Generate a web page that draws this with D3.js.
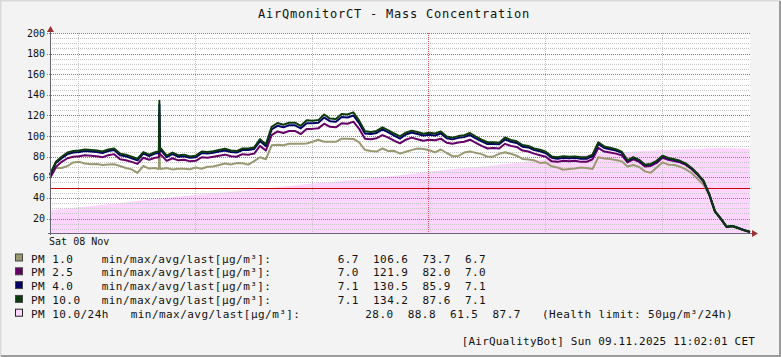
<!DOCTYPE html>
<html><head><meta charset="utf-8">
<script src="https://cdn.jsdelivr.net/npm/d3@7"></script>
<style>body{margin:0;background:#f3f3f3}svg{display:block}</style>
</head><body>
<svg id="chart" width="781" height="357"></svg>
<script>
// ---------------- DATA ----------------
const chartTitle = "AirQmonitorCT - Mass Concentration";
const startUTC = Date.UTC(2025, 10, 8, 11, 2); // Sat 08 Nov 2025 11:02
const spanMinutes = 1440;
const minutes = [0,12,24,36,48,60,72,84,96,108,120,132,144,156,168,180,192,204,216,224,225,226,228,240,252,264,276,288,300,312,324,336,348,360,372,384,396,408,420,432,444,456,468,480,492,504,516,528,540,552,564,576,588,600,612,624,636,648,660,672,684,696,708,720,732,744,756,768,780,792,804,816,828,840,852,864,876,888,900,912,924,936,948,960,972,984,996,1008,1020,1032,1044,1056,1068,1080,1092,1104,1116,1128,1140,1152,1164,1176,1188,1200,1212,1224,1236,1248,1260,1272,1284,1296,1308,1320,1332,1344,1356,1368,1380,1392,1404,1416,1428,1440];
const pm10 = [63,75,80,84,85.5,86,87,86.5,86,85,87,88,83,82,80,78,84.5,82,84.3,85,134.2,87,88,81,84,81.5,82,80.3,81,85,84.5,85.3,86.5,87.8,86,85.5,88,88,89,97,92,109,112.7,111,113,113,110,115.3,115,115.5,121,117,116.6,121.5,121,123,115,104.6,104,105,108.5,105.6,102.5,99.7,103.3,105.3,104,102.3,103.2,102.5,104.5,99.7,98.5,100,100.8,103,99.6,96.5,94,94,93.5,98.6,96.3,95,91.3,90.5,88,86.8,84.8,80.3,79.5,80.5,80,80.3,79.4,79.5,82,94,90,88.8,87.3,85,76.5,79.5,77,72.3,73,76,81,78.8,77.5,76,73.3,69,63.4,57,44,27,20,12,12.8,10.8,8.8,7.1];
const pm4 = [62,74,78.5,82.5,84,84.5,85.5,85,84.5,83.5,85.5,86.5,81.5,80.5,78.5,76.5,83,80.5,83,83.5,130.5,85.5,86.5,79.5,82.5,80,80.5,79,79.5,83.5,83,83.8,85,86,84.5,84,86.5,86.5,87.5,95,90.5,106.5,110,108.5,110.5,110.5,107.5,112.5,112.5,113,118,114.5,114,118.5,118,120,112.5,102.5,102,103,106.5,103.5,100.5,97.5,101.5,103.5,102,100.5,101.3,100.5,102.5,98,96.8,98.3,99,101,97.8,94.8,92.3,92.3,92,96.8,94.5,93.3,89.7,89,86.5,85.3,83.3,79,78,79,78.5,79,78,78,80.5,92.3,88.5,87.3,86,84,76,79,76.5,72,72.5,75.5,80.5,78.3,77,75.5,73,68.7,63.2,56.8,43.8,27,20,12,12.8,10.8,8.8,7.1];
const pm25 = [59,70,75,78.5,80,80.5,81.5,81,80.5,79.5,81.5,82.5,77.5,76.5,75,73,79,77,79,79.5,121.9,81,82,76,78.5,76.5,77,75.5,76,79.5,79,80,81,82,80.5,80,82.5,82,83,90.5,86,101,104.5,103,105,105,102,107,107,107.5,112,109,108.5,112.5,112,114,107,97.5,97,98,101,98.5,95.5,93,96.5,98.5,97,95.5,96.5,96,97.5,93.5,92.5,93.8,94.5,96.5,93.5,90.5,88,88.5,88,92.5,90.5,89.5,86,85,83,81.5,80,75.5,75,76,75.5,76,75,75,77.5,88.5,85,84,83,81.5,74.5,77.5,75,70.5,71,74,79,77,75.8,74.5,72,67.8,62.5,56.2,43.5,26.8,19.8,11.9,12.7,10.7,8.7,7.0];
const pm1 = [61,69,69,71,74.5,75,73.5,72.7,73,72,72.5,72.7,71,69,67.7,64.3,71,68.5,69,68,106.6,70,68,69,67.7,68.3,68.3,67.8,69.5,68.3,70.2,70.5,72,73.4,72.5,73.8,73.6,72.3,75.8,79.5,77.5,91,91.5,91.2,92.5,92.6,92.5,92.8,94.5,96.5,94.5,94.5,94.5,97.5,97.5,97.2,94,86.5,85.5,85,88,85.5,85.7,83,84.8,86.4,88,87.5,86.2,84.3,87,83.6,80.5,80.7,84,85,83.7,82.5,80,80.3,82.8,84.3,82.8,81,77.8,77.2,76.5,74,74.4,70.7,69.5,67.4,68,68.5,69.5,69,68,79.5,78.3,77.8,76.9,75.5,70.5,72,70,65.8,64.5,69.5,74.5,72.3,72,70.3,67.7,64.2,58.5,53,43,26.5,19.5,11.5,12.3,10.3,8.4,6.7];
const pm10avgMinutes = [0,60,120,180,240,300,360,420,480,540,600,660,720,780,840,900,960,1020,1080,1140,1200,1260,1320,1380,1440];
const pm10avg24 = [28,31,34,37,40,43,45.5,48,51,54,56.5,59,62,65.5,68.5,71,74,77.5,81,83.5,85,86.5,87.5,88.8,87.7];
const healthLimit = 50;
const yMin = 6, yMax = 200;
const yTickValues = [20,40,60,80,100,120,140,160,180,200];

const legendNames = ["PM 1.0","PM 2.5","PM 4.0","PM 10.0","PM 10.0/24h"];
const legendUnit = "min/max/avg/last[µg/m³]:";
const legendStats = [
  ["6.7","106.6","73.7","6.7"],
  ["7.0","121.9","82.0","7.0"],
  ["7.1","130.5","85.9","7.1"],
  ["7.1","134.2","87.6","7.1"],
  ["28.0","88.8","61.5","87.7"]
];
const healthNote = "(Health limit: 50µg/m³/24h)";
const footer = "[AirQualityBot] Sun 09.11.2025 11:02:01 CET";

// ---------------- STYLE ----------------
const colors = {pm1:"#9a9870", pm25:"#660066", pm4:"#000066", pm10:"#0b3a0b", avg:"rgba(255,0,255,0.16)", avgSwatch:"#ffd6ff"};
const W = 781, H = 357;
const plot = {l:50, r:750, t:33, b:233};
const mono = "'DejaVu Sans Mono', 'Liberation Mono', monospace";

const svg = d3.select("#chart");
const toDate = m => new Date(startUTC + m * 60000);
const x = d3.scaleUtc().domain([toDate(0), toDate(spanMinutes)]).range([plot.l, plot.r]);
const y = d3.scaleLinear().domain([yMin, yMax]).range([plot.b, plot.t]);
const snap = v => Math.round(v) + 0.5;

// background + border
svg.append("rect").attr("width", W).attr("height", H).attr("fill", "#f3f3f3");
svg.append("path").attr("d", `M0.5,${H}V0.5H${W}`).attr("stroke", "#d9d9d9").attr("stroke-width", 2).attr("fill", "none");
svg.append("path").attr("d", `M${W-1},1V${H-1}H1`).attr("stroke", "#9c9c9c").attr("stroke-width", 2).attr("fill", "none");

// plot area
svg.append("rect").attr("x", plot.l).attr("y", plot.t).attr("width", plot.r - plot.l).attr("height", plot.b - plot.t).attr("fill", "#ffffff");

// 24h average area
const avgData = pm10avgMinutes.map((m, i) => ({t: toDate(m), v: pm10avg24[i]}));
svg.append("path").datum(avgData)
  .attr("d", d3.area().x(d => x(d.t)).y0(plot.b).y1(d => y(d.v)))
  .attr("fill", colors.avg);

// grid
const g = svg.append("g");
const minorY = d3.range(10, yMax + 0.1, 5).filter(v => v % 20 !== 0);
g.selectAll(".hmin").data(minorY).join("line")
  .attr("x1", plot.l).attr("x2", plot.r).attr("y1", d => snap(y(d))).attr("y2", d => snap(y(d)))
  .attr("stroke", "#c4c4c4").attr("stroke-dasharray", "1,1");
const hours4 = x.ticks(d3.utcHour.every(4));
g.selectAll(".vmin").data(hours4.filter(d => d.getUTCHours() !== 0)).join("line")
  .attr("x1", d => snap(x(d))).attr("x2", d => snap(x(d))).attr("y1", plot.t).attr("y2", plot.b)
  .attr("stroke", "#c4c4c4").attr("stroke-dasharray", "1,1");
g.selectAll(".hmaj").data(yTickValues).join("line")
  .attr("x1", plot.l - 3).attr("x2", plot.r).attr("y1", d => snap(y(d))).attr("y2", d => snap(y(d)))
  .attr("stroke", "#d85a5a").attr("stroke-dasharray", "1,1");
g.selectAll(".vmaj").data(hours4.filter(d => d.getUTCHours() === 0)).join("line")
  .attr("x1", d => snap(x(d))).attr("x2", d => snap(x(d))).attr("y1", plot.t).attr("y2", plot.b + 2)
  .attr("stroke", "#d85a5a").attr("stroke-dasharray", "1,1");

// health limit line
svg.append("line").attr("x1", plot.l).attr("x2", plot.r)
  .attr("y1", snap(y(healthLimit))).attr("y2", snap(y(healthLimit)))
  .attr("stroke", "#cc0000").attr("stroke-width", 1);

// series lines (PM10 drawn last, on top)
const series = [
  {vals: pm1, color: colors.pm1},
  {vals: pm25, color: colors.pm25},
  {vals: pm4, color: colors.pm4},
  {vals: pm10, color: colors.pm10}
];
const line = d3.line().x(d => x(d.t)).y(d => y(d.v));
series.forEach(s => {
  const data = minutes.map((m, i) => ({t: toDate(m), v: s.vals[i]}));
  svg.append("path").datum(data).attr("d", line)
    .attr("fill", "none").attr("stroke", s.color).attr("stroke-width", 2)
    .attr("stroke-linejoin", "round");
});

// axes
svg.append("line").attr("x1", plot.l + 0.5).attr("x2", plot.l + 0.5).attr("y1", plot.b + 2).attr("y2", plot.t - 5)
  .attr("stroke", "#666677");
svg.append("line").attr("x1", plot.l - 2).attr("x2", plot.r + 5).attr("y1", plot.b + 0.5).attr("y2", plot.b + 0.5)
  .attr("stroke", "#666677");
svg.append("path").attr("d", `M${plot.l + 0.5},${plot.t - 7}l-3.5,6h7z`).attr("fill", "#993333");
svg.append("path").attr("d", `M${plot.r + 8},${plot.b + 0.5}l-6,-3.5v7z`).attr("fill", "#993333");

// y tick labels
svg.selectAll(".ytl").data(yTickValues).join("text")
  .attr("x", 45).attr("y", d => y(d) + 3.5)
  .attr("text-anchor", "end").attr("font-family", mono).attr("font-size", 10).attr("fill", "#111")
  .text(d => d);

// x label (noon of first day)
const noonTicks = x.ticks(d3.utcHour.every(12)).filter(d => d.getUTCHours() === 12);
svg.selectAll(".xtl").data(noonTicks.slice(0, 1)).join("text")
  .attr("x", d => x(d) + 1).attr("y", plot.b + 11.5)
  .attr("text-anchor", "middle").attr("font-family", mono).attr("font-size", 10).attr("fill", "#111")
  .text(d => d3.utcFormat("%a %d %b")(d));

// title
svg.append("text").attr("x", 394).attr("y", 18).attr("text-anchor", "middle")
  .attr("font-family", mono).attr("font-size", 12).attr("letter-spacing", 0.78).attr("fill", "#111")
  .text(chartTitle);

// legend
const swatchColors = [colors.pm1, colors.pm25, colors.pm4, colors.pm10, colors.avgSwatch];
const baselines = [262.5, 276.3, 290.1, 303.9, 317.7];
const leg = svg.append("g").attr("font-family", mono).attr("font-size", 11).attr("letter-spacing", 0.45).attr("fill", "#111");
legendNames.forEach((name, i) => {
  const b = baselines[i];
  leg.append("rect").attr("x", 15.5).attr("y", b - 8.5).attr("width", 7).attr("height", 7)
    .attr("fill", swatchColors[i]).attr("stroke", i === 4 ? "#222" : "#444").attr("stroke-width", 1);
  leg.append("text").attr("x", 31).attr("y", b).text(name);
  leg.append("text").attr("x", i === 4 ? 130.7 : 101.7).attr("y", b).text(legendUnit);
  const xs = i === 4 ? [365.3, 407.7, 450.1, 492.5] : [337.7, 373, 422.5, 464.9];
  legendStats[i].forEach((s, j) => leg.append("text").attr("x", xs[j]).attr("y", b).text(s));
});
leg.append("text").attr("x", 542).attr("y", baselines[4]).text(healthNote);

svg.append("text").attr("x", 461.7).attr("y", 345).attr("font-family", mono).attr("font-size", 11)
  .attr("letter-spacing", 0.2).attr("fill", "#111").text(footer);
</script>
</body></html>
